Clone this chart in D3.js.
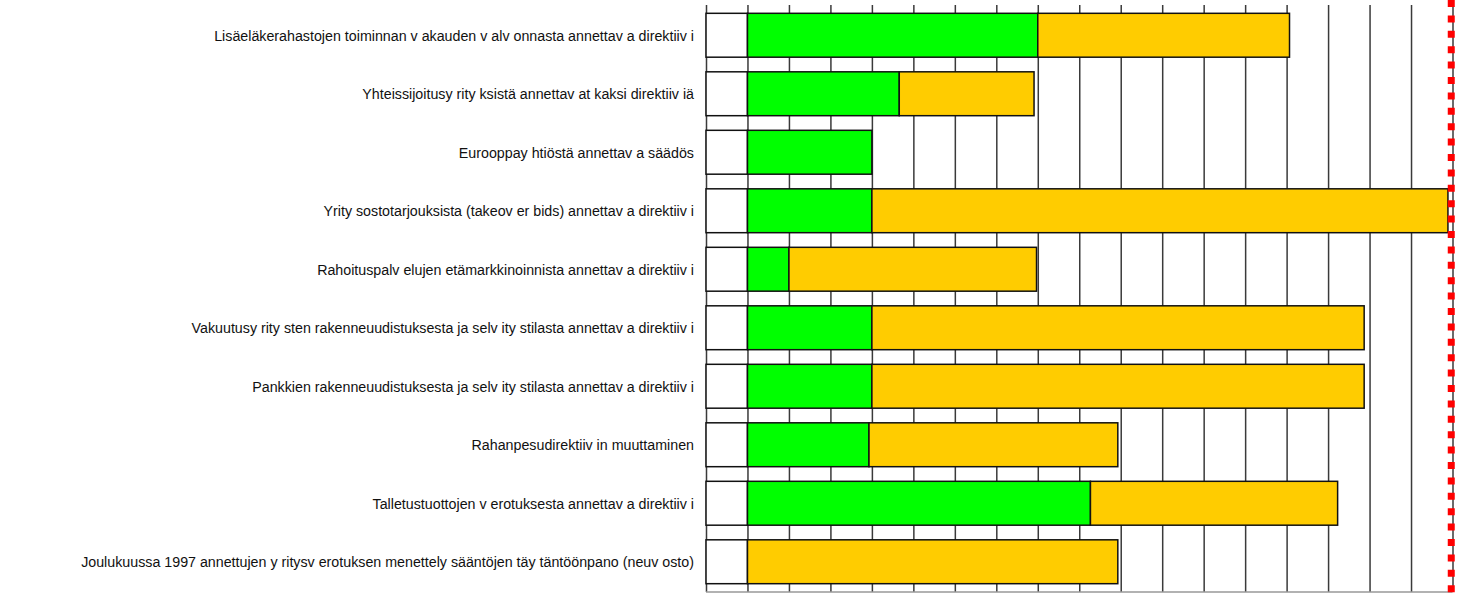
<!DOCTYPE html>
<html>
<head>
<meta charset="utf-8">
<script src="https://cdn.jsdelivr.net/npm/d3@7"></script>
<style>
    body { margin: 0; background: #fff; }
    .grid line { stroke: #3a3a3a; stroke-width: 1.5; }
    .grid path { display: none; }
    .label { font-family: "Liberation Sans", Arial, sans-serif; font-size: 15.5px; fill: #111; }
    .seg { stroke: #111; stroke-width: 1.5; }
</style>
</head>
<body>
<div id="chart"></div>
<script>
// one row per directive, top to bottom
const categories = [
    'Lisäeläkerahastojen toiminnan v akauden v alv onnasta annettav a direktiiv i',
    'Yhteissijoitusy rity ksistä annettav at kaksi direktiiv iä',
    'Eurooppay htiöstä annettav a säädös',
    'Yrity sostotarjouksista (takeov er bids) annettav a direktiiv i',
    'Rahoituspalv elujen etämarkkinoinnista annettav a direktiiv i',
    'Vakuutusy rity sten rakenneuudistuksesta ja selv ity stilasta annettav a direktiiv i',
    'Pankkien rakenneuudistuksesta ja selv ity stilasta annettav a direktiiv i',
    'Rahanpesudirektiiv in muuttaminen',
    'Talletustuottojen v erotuksesta annettav a direktiiv i',
    'Joulukuussa 1997 annettujen y ritysv erotuksen menettely sääntöjen täy täntöönpano (neuv osto)'
];

// segment lengths in grid units
const leadLen = [1, 1, 1, 1, 1, 1, 1, 1, 1, 1];
const greenLen = [7, 3.66, 3, 3, 1, 3, 3, 2.93, 8.27, 0];
const orangeLen = [6.07, 3.25, 0, 13.89, 5.97, 11.87, 11.87, 6, 5.96, 8.93];

const gridMax = 18;
const markerValue = 17.97;

const width = 1458, height = 597;
const margin = {top: 5, right: 5, bottom: 5, left: 706};
const plotRight = 1452.5;
const plotBottom = 592;

const svg = d3.select('#chart')
    .append('svg')
    .attr('width', width)
    .attr('height', height);

const x = d3.scaleLinear()
    .domain([0, gridMax])
    .range([margin.left, plotRight]);

const y = d3.scaleBand()
    .domain(categories)
    .range([6, 591])
    .paddingInner(0.25)
    .paddingOuter(0.125);

// vertical gridlines
svg.append('g')
    .attr('class', 'grid')
    .attr('transform', `translate(0,${plotBottom})`)
    .call(d3.axisBottom(x)
        .tickValues(d3.range(0, gridMax + 1))
        .tickSize(-(plotBottom - margin.top))
        .tickFormat(''));

// bottom line
svg.append('line')
    .attr('x1', margin.left).attr('x2', plotRight)
    .attr('y1', plotBottom).attr('y2', plotBottom)
    .attr('stroke', '#999').attr('stroke-width', 1.5);

const rows = categories.map((c, i) => ({
    name: c, lead: leadLen[i], green: greenLen[i], orange: orangeLen[i]
}));

const keys = ['lead', 'green', 'orange'];
const colors = {lead: '#ffffff', green: '#00ff00', orange: '#ffcc00'};

const stacked = d3.stack().keys(keys)(rows);

svg.append('g')
    .selectAll('g')
    .data(stacked)
    .enter().append('g')
    .attr('fill', d => colors[d.key])
    .selectAll('rect')
    .data(d => d.filter(s => s[1] - s[0] > 0))
    .enter().append('rect')
    .attr('class', 'seg')
    .attr('x', d => x(d[0]))
    .attr('width', d => x(d[1]) - x(d[0]))
    .attr('y', d => y(d.data.name))
    .attr('height', y.bandwidth());

// category labels, squeezed a bit like the original narrow font
svg.append('g')
    .selectAll('text')
    .data(categories)
    .enter().append('text')
    .attr('class', 'label')
    .attr('transform', d => `translate(694,${y(d) + y.bandwidth() / 2}) scale(0.92,1)`)
    .attr('dy', '0.35em')
    .attr('text-anchor', 'end')
    .text(d => d);

// red dashed marker
svg.append('line')
    .attr('x1', x(markerValue)).attr('x2', x(markerValue))
    .attr('y1', 0).attr('y2', height)
    .attr('stroke', '#ff0000')
    .attr('stroke-width', 7)
    .attr('stroke-dasharray', '7,8.4');
</script>
</body>
</html>
